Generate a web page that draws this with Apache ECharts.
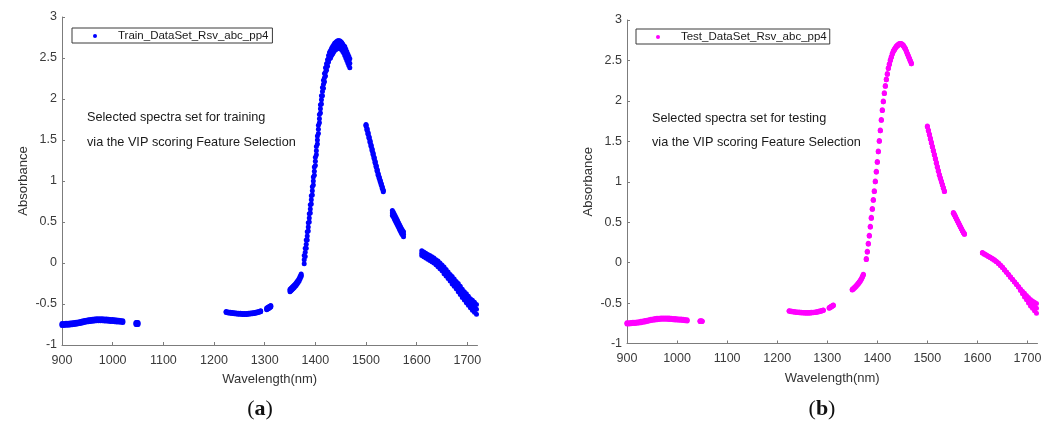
<!DOCTYPE html>
<html>
<head>
<meta charset="utf-8">
<script src="https://cdn.jsdelivr.net/npm/echarts@6/dist/echarts.min.js"></script>
<style>
html,body{margin:0;padding:0;background:#ffffff;}
#chart{width:1055px;height:430px;}
</style>
</head>
<body>
<div id="chart"></div>
<script>
// ---------------- data ----------------
const wavelength = [
  900,904,908,912,916,920,924,928,932,936,940,944,948,952,956,960,964,968,972,976,980,984,988,992,996,1000,1004,1008,1012,1016,1020,
  1046,1048,1050,
  1224,1228,1232,1236,1240,1244,1248,1252,1256,1260,1264,1268,1272,1276,1280,1284,1288,1292,
  1304,1306,1308,1310,1312,
  1350,1352,1354,1356,1358,1360,1362,1364,1366,1368,1370,1372,
  1378,1380,1382,1384,1386,1388,1390,1392,1394,1396,1398,1400,1402,1404,1406,1408,1410,1412,1414,1416,1418,1420,1422,1424,1426,1428,1430,1432,1434,1436,1438,1440,1442,1444,1446,1448,1450,1452,1454,1456,1458,1460,1462,1464,1466,1468,
  1500,1502,1504,1506,1508,1510,1512,1514,1516,1518,1520,1522,1524,1526,1528,1530,1532,1534,
  1552,1554,1556,1558,1560,1562,1564,1566,1568,1570,1572,1574,
  1610,1614,1618,1622,1626,1630,1634,1638,1642,1646,1650,1654,1658,1662,1666,1670,1674,1678,1682,1686,1690,1694,1698,1702,1706,1710,1714,1718
];

const trainLow = [
  -0.762,-0.762,-0.760,-0.758,-0.756,-0.753,-0.750,-0.746,-0.742,-0.737,-0.732,-0.726,-0.721,-0.716,-0.712,-0.709,-0.707,-0.705,-0.704,-0.704,-0.705,-0.706,-0.708,-0.710,-0.712,-0.714,-0.716,-0.718,-0.721,-0.724,-0.727,
  -0.750,-0.750,-0.751,
  -0.604,-0.609,-0.613,-0.617,-0.620,-0.622,-0.624,-0.626,-0.627,-0.627,-0.627,-0.625,-0.623,-0.619,-0.615,-0.609,-0.603,-0.595,
  -0.570,-0.562,-0.554,-0.546,-0.538,
  -0.350,-0.339,-0.327,-0.315,-0.302,-0.288,-0.273,-0.257,-0.239,-0.218,-0.193,-0.165,
  -0.01,0.08,0.18,0.28,0.39,0.50,0.61,0.72,0.83,0.95,1.07,1.19,1.32,1.45,1.58,1.71,1.83,1.94,2.04,2.13,2.21,2.28,2.35,2.40,2.45,2.49,2.50,2.53,2.55,2.57,2.59,2.60,2.61,2.62,2.62,2.62,2.61,2.60,2.58,2.56,2.53,2.50,2.47,2.44,2.41,2.38,
  1.67,1.62,1.57,1.52,1.47,1.42,1.37,1.32,1.27,1.22,1.17,1.12,1.07,1.03,0.99,0.95,0.91,0.87,
  0.58,0.56,0.535,0.51,0.485,0.46,0.435,0.41,0.385,0.36,0.34,0.32,
  0.09,0.075,0.06,0.045,0.03,0.015,0.00,-0.02,-0.045,-0.07,-0.095,-0.13,-0.16,-0.19,-0.22,-0.255,-0.285,-0.315,-0.35,-0.385,-0.42,-0.45,-0.485,-0.515,-0.545,-0.575,-0.60,-0.625
];

const trainMid = [
  -0.750,-0.750,-0.748,-0.746,-0.744,-0.741,-0.738,-0.734,-0.730,-0.725,-0.720,-0.714,-0.709,-0.704,-0.700,-0.697,-0.695,-0.693,-0.692,-0.692,-0.693,-0.694,-0.696,-0.698,-0.700,-0.702,-0.704,-0.706,-0.709,-0.712,-0.715,
  -0.738,-0.738,-0.739,
  -0.598,-0.603,-0.607,-0.611,-0.614,-0.616,-0.618,-0.620,-0.621,-0.621,-0.621,-0.619,-0.617,-0.613,-0.609,-0.603,-0.597,-0.589,
  -0.560,-0.552,-0.544,-0.536,-0.528,
  -0.335,-0.324,-0.312,-0.300,-0.287,-0.273,-0.258,-0.242,-0.224,-0.203,-0.178,-0.150,
  0.04,0.13,0.23,0.33,0.44,0.55,0.66,0.77,0.88,1.00,1.12,1.24,1.37,1.50,1.63,1.76,1.88,1.99,2.09,2.18,2.26,2.33,2.39,2.44,2.49,2.53,2.545,2.575,2.595,2.615,2.635,2.645,2.655,2.665,2.665,2.665,2.655,2.645,2.625,2.605,2.585,2.555,2.525,2.495,2.465,2.435,
  1.68,1.63,1.58,1.53,1.48,1.43,1.38,1.33,1.28,1.23,1.18,1.13,1.08,1.04,1.00,0.96,0.92,0.88,
  0.61,0.59,0.565,0.54,0.515,0.49,0.465,0.44,0.415,0.39,0.37,0.35,
  0.12,0.105,0.09,0.075,0.06,0.045,0.03,0.01,-0.01,-0.035,-0.06,-0.09,-0.12,-0.15,-0.18,-0.21,-0.24,-0.27,-0.30,-0.335,-0.37,-0.40,-0.43,-0.46,-0.49,-0.515,-0.54,-0.565
];

const trainHigh = [
  -0.738,-0.738,-0.736,-0.734,-0.732,-0.729,-0.726,-0.722,-0.718,-0.713,-0.708,-0.702,-0.697,-0.692,-0.688,-0.685,-0.683,-0.681,-0.680,-0.680,-0.681,-0.682,-0.684,-0.686,-0.688,-0.690,-0.692,-0.694,-0.697,-0.700,-0.703,
  -0.726,-0.726,-0.727,
  -0.592,-0.597,-0.601,-0.605,-0.608,-0.610,-0.612,-0.614,-0.615,-0.615,-0.615,-0.613,-0.611,-0.607,-0.603,-0.597,-0.591,-0.583,
  -0.550,-0.542,-0.534,-0.526,-0.518,
  -0.320,-0.309,-0.297,-0.285,-0.272,-0.258,-0.243,-0.227,-0.209,-0.188,-0.163,-0.135,
  0.09,0.18,0.28,0.38,0.49,0.60,0.71,0.82,0.93,1.05,1.17,1.29,1.42,1.55,1.68,1.81,1.93,2.04,2.14,2.23,2.31,2.38,2.43,2.48,2.53,2.57,2.59,2.62,2.64,2.66,2.68,2.69,2.70,2.71,2.71,2.71,2.70,2.69,2.67,2.65,2.64,2.61,2.58,2.55,2.52,2.49,
  1.69,1.64,1.59,1.54,1.49,1.44,1.39,1.34,1.29,1.24,1.19,1.14,1.09,1.05,1.01,0.97,0.93,0.89,
  0.64,0.62,0.595,0.57,0.545,0.52,0.495,0.47,0.445,0.42,0.40,0.38,
  0.15,0.135,0.12,0.105,0.09,0.075,0.06,0.04,0.025,0.00,-0.025,-0.05,-0.08,-0.11,-0.14,-0.165,-0.195,-0.225,-0.25,-0.285,-0.32,-0.35,-0.375,-0.405,-0.435,-0.455,-0.48,-0.505
];

const testLow = [
  -0.758,-0.758,-0.756,-0.754,-0.752,-0.749,-0.746,-0.742,-0.738,-0.733,-0.728,-0.722,-0.717,-0.712,-0.708,-0.705,-0.703,-0.701,-0.700,-0.700,-0.701,-0.702,-0.704,-0.706,-0.708,-0.710,-0.712,-0.714,-0.717,-0.720,-0.723,
  -0.728,-0.728,-0.729,
  -0.602,-0.607,-0.611,-0.615,-0.618,-0.620,-0.622,-0.624,-0.625,-0.625,-0.625,-0.623,-0.621,-0.617,-0.613,-0.607,-0.601,-0.593,
  -0.564,-0.556,-0.548,-0.540,-0.532,
  -0.340,-0.329,-0.317,-0.305,-0.292,-0.278,-0.263,-0.247,-0.229,-0.208,-0.183,-0.155,
  0.04,0.13,0.23,0.33,0.44,0.55,0.66,0.77,0.88,1.00,1.12,1.24,1.37,1.50,1.63,1.76,1.88,1.99,2.09,2.18,2.26,2.33,2.40,2.45,2.50,2.54,2.58,2.61,2.63,2.65,2.67,2.68,2.69,2.70,2.70,2.70,2.69,2.68,2.66,2.64,2.61,2.58,2.55,2.52,2.49,2.46,
  1.68,1.63,1.58,1.53,1.48,1.43,1.38,1.33,1.28,1.23,1.18,1.13,1.08,1.04,1.00,0.96,0.92,0.88,
  0.61,0.59,0.565,0.54,0.515,0.49,0.465,0.44,0.415,0.39,0.37,0.35,
  0.12,0.105,0.09,0.075,0.06,0.045,0.03,0.01,-0.01,-0.035,-0.06,-0.09,-0.12,-0.15,-0.18,-0.21,-0.24,-0.27,-0.30,-0.345,-0.385,-0.425,-0.46,-0.50,-0.535,-0.565,-0.595,-0.625
];

const testMid = [
  -0.750,-0.750,-0.748,-0.746,-0.744,-0.741,-0.738,-0.734,-0.730,-0.725,-0.720,-0.714,-0.709,-0.704,-0.700,-0.697,-0.695,-0.693,-0.692,-0.692,-0.693,-0.694,-0.696,-0.698,-0.700,-0.702,-0.704,-0.706,-0.709,-0.712,-0.715,
  -0.724,-0.724,-0.725,
  -0.598,-0.603,-0.607,-0.611,-0.614,-0.616,-0.618,-0.620,-0.621,-0.621,-0.621,-0.619,-0.617,-0.613,-0.609,-0.603,-0.597,-0.589,
  -0.560,-0.552,-0.544,-0.536,-0.528,
  -0.335,-0.324,-0.312,-0.300,-0.287,-0.273,-0.258,-0.242,-0.224,-0.203,-0.178,-0.150,
  0.04,0.13,0.23,0.33,0.44,0.55,0.66,0.77,0.88,1.00,1.12,1.24,1.37,1.50,1.63,1.76,1.88,1.99,2.09,2.18,2.26,2.33,2.40,2.45,2.50,2.54,2.58,2.61,2.63,2.65,2.67,2.68,2.69,2.70,2.70,2.70,2.69,2.68,2.66,2.64,2.61,2.58,2.55,2.52,2.49,2.46,
  1.68,1.63,1.58,1.53,1.48,1.43,1.38,1.33,1.28,1.23,1.18,1.13,1.08,1.04,1.00,0.96,0.92,0.88,
  0.61,0.59,0.565,0.54,0.515,0.49,0.465,0.44,0.415,0.39,0.37,0.35,
  0.12,0.105,0.09,0.075,0.06,0.045,0.03,0.01,-0.01,-0.035,-0.06,-0.09,-0.12,-0.15,-0.18,-0.21,-0.24,-0.27,-0.30,-0.335,-0.37,-0.40,-0.43,-0.46,-0.49,-0.515,-0.54,-0.565
];

const testHigh = [
  -0.742,-0.742,-0.740,-0.738,-0.736,-0.733,-0.730,-0.726,-0.722,-0.717,-0.712,-0.706,-0.701,-0.696,-0.692,-0.689,-0.687,-0.685,-0.684,-0.684,-0.685,-0.686,-0.688,-0.690,-0.692,-0.694,-0.696,-0.698,-0.701,-0.704,-0.707,
  -0.720,-0.720,-0.721,
  -0.594,-0.599,-0.603,-0.607,-0.610,-0.612,-0.614,-0.616,-0.617,-0.617,-0.617,-0.615,-0.613,-0.609,-0.605,-0.599,-0.593,-0.585,
  -0.556,-0.548,-0.540,-0.532,-0.524,
  -0.330,-0.319,-0.307,-0.295,-0.282,-0.268,-0.253,-0.237,-0.219,-0.198,-0.173,-0.145,
  0.05,0.14,0.24,0.34,0.45,0.56,0.67,0.78,0.89,1.01,1.13,1.25,1.38,1.51,1.64,1.77,1.89,2.00,2.10,2.19,2.27,2.34,2.41,2.46,2.51,2.55,2.59,2.62,2.64,2.66,2.68,2.69,2.70,2.71,2.71,2.71,2.70,2.69,2.67,2.65,2.62,2.59,2.56,2.53,2.50,2.47,
  1.69,1.64,1.59,1.54,1.49,1.44,1.39,1.34,1.29,1.24,1.19,1.14,1.09,1.05,1.01,0.97,0.93,0.89,
  0.62,0.60,0.575,0.55,0.525,0.50,0.475,0.45,0.425,0.40,0.38,0.36,
  0.125,0.11,0.095,0.08,0.065,0.05,0.035,0.015,-0.005,-0.03,-0.055,-0.085,-0.115,-0.145,-0.175,-0.205,-0.235,-0.265,-0.295,-0.325,-0.355,-0.38,-0.405,-0.43,-0.455,-0.475,-0.49,-0.505
];

const xTickValues = [900, 1000, 1100, 1200, 1300, 1400, 1500, 1600, 1700];
const trainName = 'Train_DataSet_Rsv_abc_pp4';
const testName = 'Test_DataSet_Rsv_abc_pp4';
const trainNote = ['Selected spectra set for training', 'via the VIP scoring Feature Selection'];
const testNote = ['Selected spectra set for testing', 'via the VIP scoring Feature Selection'];
const xAxisTitle = 'Wavelength(nm)';
const yAxisTitle = 'Absorbance';
const captions = ['a', 'b'];

// ---------------- chart ----------------
[trainLow, trainMid, trainHigh, testLow, testMid, testHigh].forEach(function (a, k) {
  if (a.length !== wavelength.length) throw new Error('length mismatch ' + k + ': ' + a.length + ' vs ' + wavelength.length);
});

const FONT = "'Liberation Sans', Arial, Helvetica, sans-serif";
const AXIS_COLOR = '#7c7c7c';
const LABEL_COLOR = '#3a3a3a';

function pairs(values) { return wavelength.map(function (w, i) { return [w, values[i]]; }); }

function makeX(idx) {
  return {
    type: 'value', gridIndex: idx, min: 900, max: 1720, interval: 100,
    name: xAxisTitle, nameLocation: 'middle', nameGap: 28,
    nameTextStyle: { fontSize: 13, fontFamily: FONT, color: '#333333' },
    axisLine: { show: true, onZero: false, lineStyle: { color: AXIS_COLOR, width: 1 } },
    axisTick: { show: true, inside: true, length: 3, customValues: xTickValues, lineStyle: { color: AXIS_COLOR } },
    axisLabel: { show: true, customValues: xTickValues, margin: 9, fontSize: 12.5, fontFamily: FONT, color: LABEL_COLOR,
      formatter: function (v) { return String(v); } },
    splitLine: { show: false }
  };
}
function makeY(idx) {
  return {
    type: 'value', gridIndex: idx, min: -1, max: 3, interval: 0.5,
    name: yAxisTitle, nameLocation: 'middle', nameGap: 32, nameRotate: 90,
    nameTextStyle: { fontSize: 13, fontFamily: FONT, color: '#333333' },
    axisLine: { show: true, onZero: false, lineStyle: { color: AXIS_COLOR, width: 1 } },
    axisTick: { show: true, inside: true, length: 3, lineStyle: { color: AXIS_COLOR } },
    axisLabel: { show: true, margin: 5, fontSize: 12.5, fontFamily: FONT, color: LABEL_COLOR,
      formatter: function (v) { return String(v); } },
    splitLine: { show: false }
  };
}
function makeSeries(name, values, idx, color) {
  return {
    type: 'scatter', name: name, xAxisIndex: idx, yAxisIndex: idx,
    data: pairs(values), symbol: 'circle', symbolSize: 5,
    itemStyle: { color: color, opacity: 1 },
    emphasis: { disabled: true }, silent: true
  };
}
function makeLegend(name, left, top, padL, padR) {
  return {
    data: [name], left: left, top: top, orient: 'horizontal',
    icon: 'circle', itemWidth: 4, itemHeight: 4,
    padding: [2, padR, 1, padL],
    borderColor: '#3a3a3a', borderWidth: 1, borderRadius: 0, backgroundColor: '#ffffff',
    selectedMode: false,
    formatter: function (n) { return '     ' + n; },
    textStyle: { fontSize: 11.5, fontFamily: FONT, color: '#1a1a1a' }
  };
}
function noteText(x, y, str) {
  return { type: 'text', x: x, y: y, silent: true,
    style: { text: str, fontSize: 12.7, fontFamily: FONT, fill: '#1a1a1a',
      align: 'left', verticalAlign: 'middle', textAlign: 'left', textVerticalAlign: 'middle' } };
}
function caption(x, y, letter) {
  return { type: 'text', x: x, y: y, silent: true,
    style: { text: '{p|(}{b|' + letter + '}{p|)}',
      align: 'center', verticalAlign: 'middle', textAlign: 'center', textVerticalAlign: 'middle',
      rich: {
        p: { fontSize: 22, fontFamily: "'Liberation Serif', 'DejaVu Serif', serif", fill: '#111111', fontWeight: 'normal' },
        b: { fontSize: 22, fontFamily: "'Liberation Serif', 'DejaVu Serif', serif", fill: '#111111', fontWeight: 'bold' }
      } } };
}

const option = {
  animation: false,
  backgroundColor: '#ffffff',
  grid: [
    { left: 62, top: 17, width: 415.5, height: 328, containLabel: false, outerBoundsMode: 'none' },
    { left: 627, top: 20, width: 410.5, height: 323.5, containLabel: false, outerBoundsMode: 'none' }
  ],
  xAxis: [makeX(0), makeX(1)],
  yAxis: [makeY(0), makeY(1)],
  legend: [makeLegend(trainName, 72, 28, 21, 4), makeLegend(testName, 636, 29, 20, 3)],
  tooltip: { show: false },
  series: [
    makeSeries(trainName, trainLow, 0, '#0000ff'),
    makeSeries(trainName, trainMid, 0, '#0000ff'),
    makeSeries(trainName, trainHigh, 0, '#0000ff'),
    makeSeries(testName, testLow, 1, '#ff00ff'),
    makeSeries(testName, testMid, 1, '#ff00ff'),
    makeSeries(testName, testHigh, 1, '#ff00ff')
  ],
  graphic: [
    noteText(87, 117, trainNote[0]),
    noteText(87, 142, trainNote[1]),
    noteText(652, 118, testNote[0]),
    noteText(652, 142, testNote[1]),
    caption(260, 409, captions[0]),
    caption(822, 409, captions[1])
  ]
};

const chart = echarts.init(document.getElementById('chart'), null, { renderer: 'canvas' });
chart.setOption(option);
</script>
</body>
</html>
